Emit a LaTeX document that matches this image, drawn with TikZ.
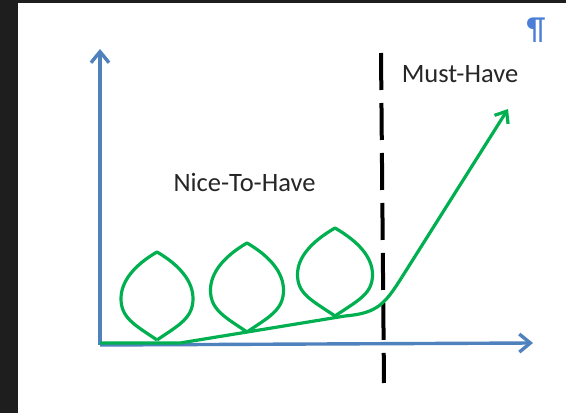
\documentclass[tikz,border=0pt]{standalone}
\usepackage{fontspec}
\setmainfont{Carlito}
\usetikzlibrary{arrows.meta}
\definecolor{axisblue}{HTML}{4F81BD}
\definecolor{curvegreen}{HTML}{00B050}
\definecolor{markblue}{HTML}{4A7FD8}
\definecolor{darkframe}{HTML}{1E1E1E}

\begin{document}
\begin{tikzpicture}[x=1pt,y=1pt,
  axis/.style={line width=3.4pt,color=axisblue,-{Straight Barb[length=11pt,width=18pt]}},
  curve/.style={line width=3.2pt,color=curvegreen,line join=round},
  label/.style={font=\fontsize{26.5}{30}\selectfont,text=black!85,inner sep=0pt}]
\useasboundingbox (0,0) rectangle (566,413);
\fill[darkframe] (0,0) rectangle (566,413);
\fill[white] (18,0) rectangle (566,410);

% axes
\coordinate (origin) at (100,68);
\coordinate (ytip) at (100,364);
\coordinate (xtip) at (533,70);
\draw[axis] (origin) -- (ytip);
\draw[axis] (origin) -- (xtip);

% divider
\coordinate (dtop) at (381,360);
\coordinate (dbot) at (384,30);
\draw[line width=4pt, dash pattern=on 37pt off 13pt] (dtop) -- (dbot);

% green curve
\coordinate (start) at (100,70);
\coordinate (flat) at (180,70);
\coordinate (bend) at (345,97);
\coordinate (knee) at (402,136);
\coordinate (gtip) at (508,304);
\draw[curve] (start) -- (flat) -- (bend) to[out=5,in=237.7,looseness=1.2] (knee);
\draw[curve,-{Straight Barb[length=10pt,width=16pt]}] (knee) -- (gtip);

% loops
\foreach \cx/\by/\ty/\w in {157/73/161/36, 247/81/170/36.5, 335/97/185/37.5} {
  \pgfmathsetmacro{\h}{\ty-\by}
  \pgfmathsetmacro{\m}{\by+0.47*\h}
  \draw[curve] (\cx,\by)
    .. controls ({\cx-0.62*\w},{\by+0.42*\w}) and ({\cx-\w},{\m-0.22*\h}) .. ({\cx-\w},\m)
    .. controls ({\cx-\w},{\m+0.2*\h}) and ({\cx-0.62*\w},{\ty-0.36*\w}) .. (\cx,\ty)
    .. controls ({\cx+0.62*\w},{\ty-0.36*\w}) and ({\cx+\w},{\m+0.2*\h}) .. ({\cx+\w},\m)
    .. controls ({\cx+\w},{\m-0.22*\h}) and ({\cx+0.62*\w},{\by+0.42*\w}) .. (\cx,\by);
}

% labels
\node[label,anchor=base] (nice) at (244.5,221) {Nice-To-Have};
\node[label,anchor=base] (must) at (460,330) {Must-Have};
\node[font=\fontsize{32}{34}\selectfont,text=markblue,inner sep=0pt] (pilcrow) at (536,383) {¶};
\end{tikzpicture}
\end{document}
